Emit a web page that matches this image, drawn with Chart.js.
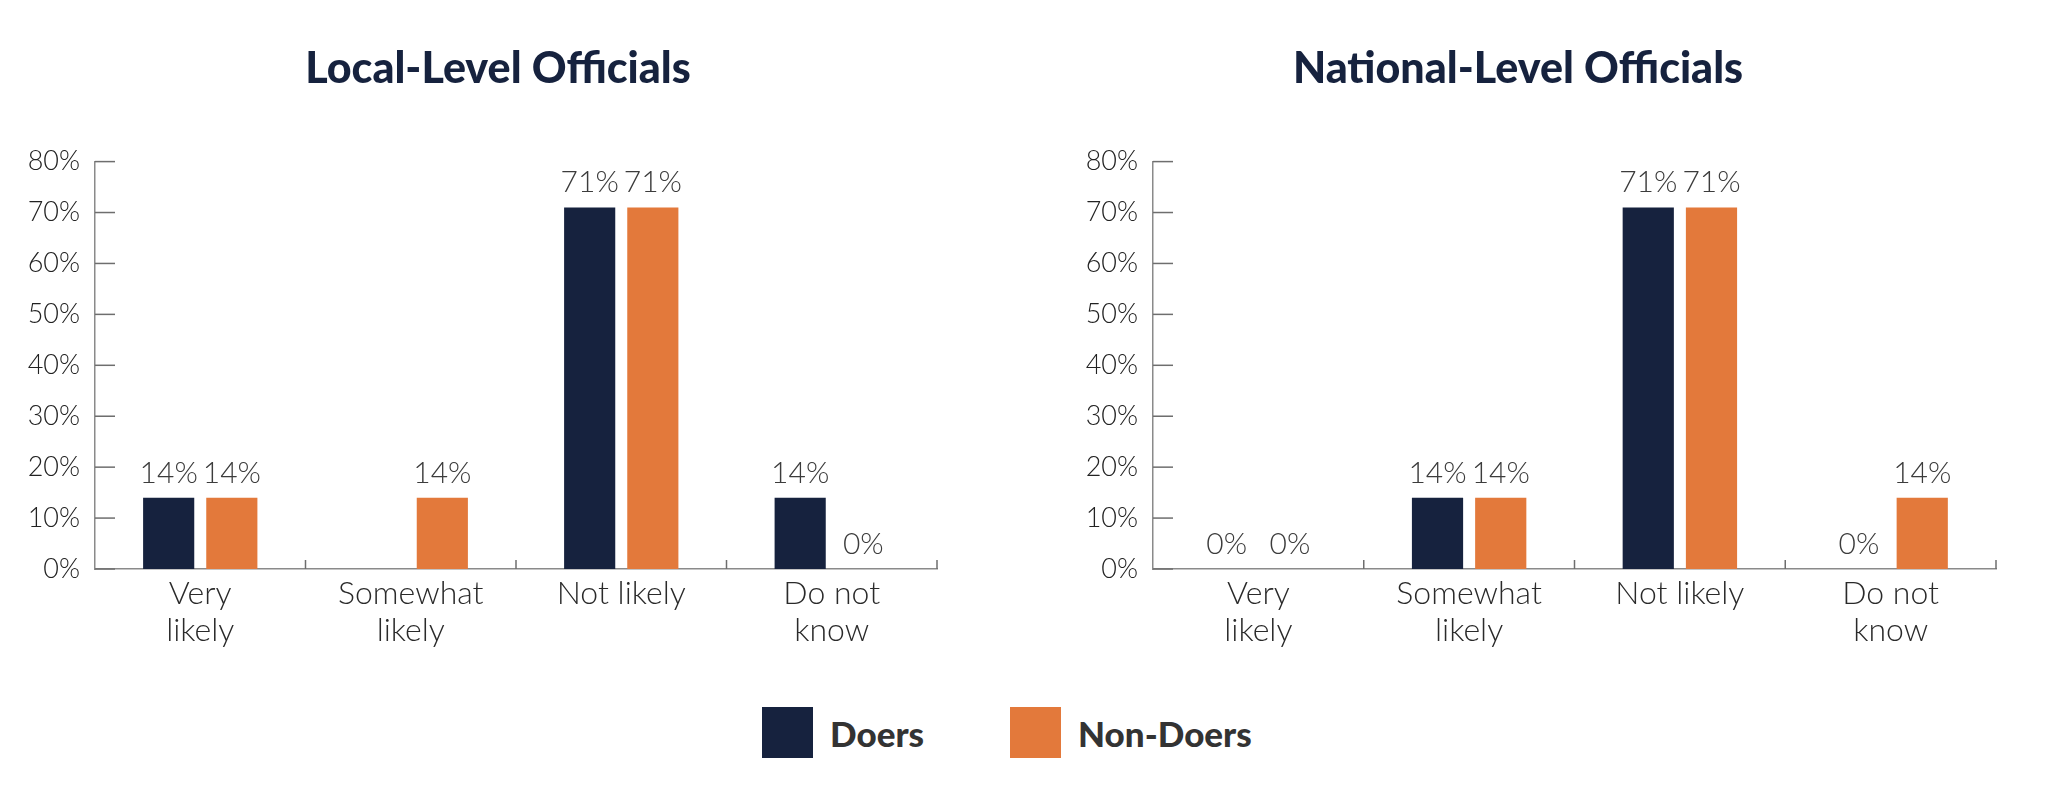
<!DOCTYPE html>
<html>
<head>
<meta charset="utf-8">
<script src="https://cdn.jsdelivr.net/npm/chart.js@4.4.1/dist/chart.umd.min.js"></script>
<style>
  body { margin: 0; background: #fff; width: 2048px; height: 788px; position: relative; overflow: hidden; }
  canvas { position: absolute; top: 0; }
  #legend { position: absolute; top: 707px; left: 762px; display: flex; align-items: center; font-family: Lato, sans-serif; font-weight: 900; font-size: 35px; color: #333; }
  #legend .item { display: flex; align-items: center; margin-right: 86px; }
  #legend .box { width: 51px; height: 51px; margin-right: 17px; }
</style>
</head>
<body>
<canvas id="localChart" width="1000" height="690" style="left:0px"></canvas>
<canvas id="nationalChart" width="960" height="690" style="left:1040px"></canvas>
<div id="legend"></div>
<script>
// categories and values
var categories = [['Very', 'likely'], ['Somewhat', 'likely'], 'Not likely', ['Do not', 'know']];
var localDoers = [14, null, 71, 14];
var localNonDoers = [14, 14, 71, 0];
var nationalDoers = [0, 14, 71, 0];
var nationalNonDoers = [0, 14, 71, 14];
var seriesNames = ['Doers', 'Non-Doers'];
var seriesColors = ['#16223e', '#e3793b'];
var yMax = 80;
var yStep = 10;

Chart.defaults.font.family = 'Lato, sans-serif';

// inward tick marks on both axes
var axisMarks = {
    id: 'axisMarks',
    afterDraw: function (chart) {
        var ctx = chart.ctx, xs = chart.scales.x, ys = chart.scales.y;
        ctx.save();
        ctx.strokeStyle = '#6e6e6e';
        ctx.lineWidth = 1.5;
        ys.ticks.forEach(function (t, i) {
            var py = ys.getPixelForTick(i);
            ctx.beginPath();
            ctx.moveTo(xs.left, py);
            ctx.lineTo(xs.left + 20, py);
            ctx.stroke();
        });
        var n = xs.ticks.length;
        for (var i = 1; i <= n; i++) {
            var px = i < n ? (xs.getPixelForTick(i - 1) + xs.getPixelForTick(i)) / 2 : xs.right;
            ctx.beginPath();
            ctx.moveTo(px, ys.bottom);
            ctx.lineTo(px, ys.bottom - 9);
            ctx.stroke();
        }
        ctx.restore();
    }
};

// value labels above the bars
var valueLabels = {
    id: 'valueLabels',
    afterDatasetsDraw: function (chart) {
        var ctx = chart.ctx;
        ctx.save();
        ctx.font = '300 30px Lato, sans-serif';
        ctx.fillStyle = '#3c3c3c';
        ctx.textAlign = 'center';
        ctx.textBaseline = 'alphabetic';
        chart.data.datasets.forEach(function (ds, i) {
            chart.getDatasetMeta(i).data.forEach(function (bar, j) {
                if (ds.data[j] === null) return;
                ctx.fillText(ds.data[j] + '%', bar.x, bar.y - 15);
            });
        });
        ctx.restore();
    }
};

// yWidth: room for the y labels; spacer: empty box right of the plot so the title sits where it does in the figure
function makeChart(id, title, doers, nonDoers, yWidth, spacer) {
    var canvas = document.getElementById(id);
    return new Chart(canvas.getContext('2d'), {
        type: 'bar',
        data: {
            labels: categories,
            datasets: [
                { label: seriesNames[0], data: doers, backgroundColor: seriesColors[0] },
                { label: seriesNames[1], data: nonDoers, backgroundColor: seriesColors[1] }
            ]
        },
        options: {
            responsive: false,
            animation: false,
            devicePixelRatio: 1,
            categoryPercentage: 0.6,
            barPercentage: 0.81,
            layout: { padding: { left: 0, right: 4, top: 0, bottom: 0 } },
            plugins: {
                legend: { display: false },
                tooltip: { enabled: false },
                title: {
                    display: true,
                    text: title,
                    color: '#16223e',
                    font: { size: 43, weight: '900' },
                    padding: { top: 43, bottom: 67 }
                }
            },
            scales: {
                x: {
                    grid: { display: false },
                    border: { display: true, color: '#8a8a8a', width: 1.5 },
                    ticks: { color: '#2a2a2a', font: { size: 32, weight: '300', lineHeight: 1.15 }, padding: -2, maxRotation: 0 },
                    afterFit: function (s) { s.height = 121; }
                },
                y: {
                    min: 0,
                    max: yMax,
                    grid: { display: false },
                    border: { display: true, color: '#8a8a8a', width: 1.5 },
                    ticks: {
                        stepSize: yStep,
                        color: '#222',
                        font: { size: 27, weight: '300' },
                        padding: 7,
                        callback: function (v) { return v + '%'; }
                    },
                    afterFit: function (s) { s.width = yWidth; }
                },
                spacer: {
                    type: 'linear',
                    position: 'right',
                    grid: { display: false },
                    border: { display: false },
                    ticks: { display: false },
                    afterFit: function (s) { s.width = spacer; }
                }
            }
        },
        plugins: [axisMarks, valueLabels]
    });
}

makeChart('localChart', 'Local-Level Officials', localDoers, localNonDoers, 95, 59);
makeChart('nationalChart', 'National-Level Officials', nationalDoers, nationalNonDoers, 113, 0);

var legend = document.getElementById('legend');
seriesNames.forEach(function (name, i) {
    var item = document.createElement('div');
    item.className = 'item';
    item.innerHTML = '<div class="box" style="background:' + seriesColors[i] + '"></div><span>' + name + '</span>';
    legend.appendChild(item);
});
</script>
</body>
</html>
